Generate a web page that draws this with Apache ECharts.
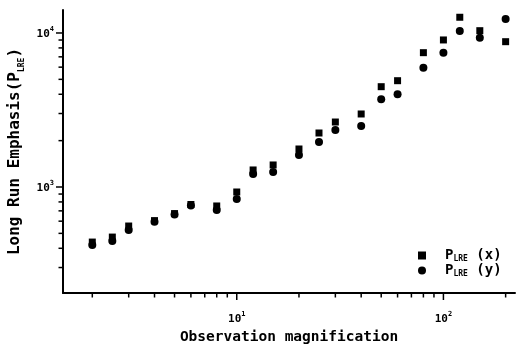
<!DOCTYPE html>
<html>
<head>
<meta charset="utf-8">
<script src="https://cdn.jsdelivr.net/npm/echarts@6/dist/echarts.min.js"></script>
<style>
  html, body { margin: 0; padding: 0; background: #fff; }
  #chart { width: 517px; height: 345px; }
</style>
</head>
<body>
<div id="chart"></div>
<script>
// magnification steps and the two P_LRE directions
var magnification = [2, 2.5, 3, 4, 5, 6, 8, 10, 12, 15, 20, 25, 30, 40, 50, 60, 80, 100, 120, 150, 200];
var plreX = [439, 473, 558, 605, 672, 770, 753, 928, 1290, 1390, 1765, 2242, 2642, 2979, 4480, 4900, 7450, 9010, 12650, 10350, 8780];
var plreY = [420, 446, 526, 595, 664, 758, 709, 836, 1215, 1251, 1614, 1959, 2345, 2489, 3710, 4000, 5955, 7450, 10300, 9310, 12330];

// tick marks
var xMajorTicks = [10, 100];
var xMinorTicks = [2, 3, 4, 5, 6, 7, 8, 9, 20, 30, 40, 50, 60, 70, 80, 90, 200];
var yMajorTicks = [1000, 10000];
var yMinorTicks = [300, 400, 500, 600, 700, 800, 900, 2000, 3000, 4000, 5000, 6000, 7000, 8000, 9000];

var X_MIN = 1.443, X_MAX = 222;
var Y_MIN = 205, Y_MAX = 14100;

var font = 'DejaVu Sans Mono';

// ticks drawn as thin rect symbols hanging off the axis lines
function tickSeries(values, onX, len) {
    return {
        type: 'scatter',
        silent: true,
        clip: false,
        z: 5,
        symbol: 'rect',
        symbolSize: onX ? [1.5, len] : [len, 1.5],
        symbolOffset: onX ? [0, len / 2 + 1] : [-(len / 2 + 1), 0],
        itemStyle: { color: '#000', opacity: 1 },
        data: values.map(function (v) { return onX ? [v, Y_MIN] : [X_MIN, v]; })
    };
}

function powLabel(v) {
    var e = Math.log10(v);
    if (Math.abs(e - Math.round(e)) > 1e-6) return '';
    return '{b|10}{s|' + Math.round(e) + '}';
}

var labelRich = {
    b: { fontSize: 11, fontWeight: 'bold', fontFamily: font, color: '#000', lineHeight: 14, verticalAlign: 'bottom' },
    s: { fontSize: 7, fontWeight: 'bold', fontFamily: font, color: '#000', lineHeight: 14, verticalAlign: 'top' }
};

function subRich(size, lh) {
    return {
        m: { fontSize: size, fontWeight: 'bold', fontFamily: font, color: '#000', lineHeight: lh, verticalAlign: 'top' },
        u: { fontSize: 8, fontWeight: 'bold', fontFamily: font, color: '#000', lineHeight: lh, verticalAlign: 'bottom' },
        g: { width: 14 }
    };
}

var chart = echarts.init(document.getElementById('chart'));

var option = {
    animation: false,
    backgroundColor: '#fff',
    grid: { left: 63, right: 2, top: 10, bottom: 52, containLabel: false, outerBoundsMode: 'none' },
    legend: {
        orient: 'vertical',
        left: 413,
        top: 243,
        itemWidth: 8,
        itemHeight: 8,
        itemGap: 0,
        data: ['x', 'y'],
        formatter: function (name) {
            return '{g|}{m|P}{u|LRE}{m| (' + name + ')}';
        },
        textStyle: { rich: subRich(14, 15) }
    },
    xAxis: {
        type: 'log',
        logBase: 10,
        min: X_MIN,
        max: X_MAX,
        name: 'Observation magnification',
        nameLocation: 'middle',
        nameGap: 29,
        nameTextStyle: { fontSize: 14.5, fontWeight: 'bold', fontFamily: font, color: '#000' },
        axisLine: { lineStyle: { color: '#000', width: 2 } },
        axisTick: { show: false },
        splitLine: { show: false },
        axisLabel: { margin: 18, formatter: powLabel, rich: labelRich }
    },
    yAxis: {
        type: 'log',
        logBase: 10,
        min: Y_MIN,
        max: Y_MAX,
        name: '{m|Long Run Emphasis(P}{u|LRE}{m|)}',
        nameLocation: 'middle',
        nameGap: 33,
        nameTextStyle: { rich: subRich(16, 19) },
        axisLine: { show: true, lineStyle: { color: '#000', width: 2 } },
        axisTick: { show: false },
        splitLine: { show: false },
        axisLabel: { margin: 9, formatter: powLabel, rich: labelRich }
    },
    series: [
        {
            name: 'x',
            type: 'scatter',
            symbol: 'rect',
            symbolSize: 7,
            itemStyle: { color: '#000', opacity: 1 },
            data: magnification.map(function (m, i) { return [m, plreX[i]]; })
        },
        {
            name: 'y',
            type: 'scatter',
            symbol: 'circle',
            symbolSize: 8,
            itemStyle: { color: '#000', opacity: 1 },
            data: magnification.map(function (m, i) { return [m, plreY[i]]; })
        },
        tickSeries(xMajorTicks, true, 6),
        tickSeries(xMinorTicks, true, 3.5),
        tickSeries(yMajorTicks, false, 6),
        tickSeries(yMinorTicks, false, 3.5)
    ]
};

chart.setOption(option);
</script>
</body>
</html>
